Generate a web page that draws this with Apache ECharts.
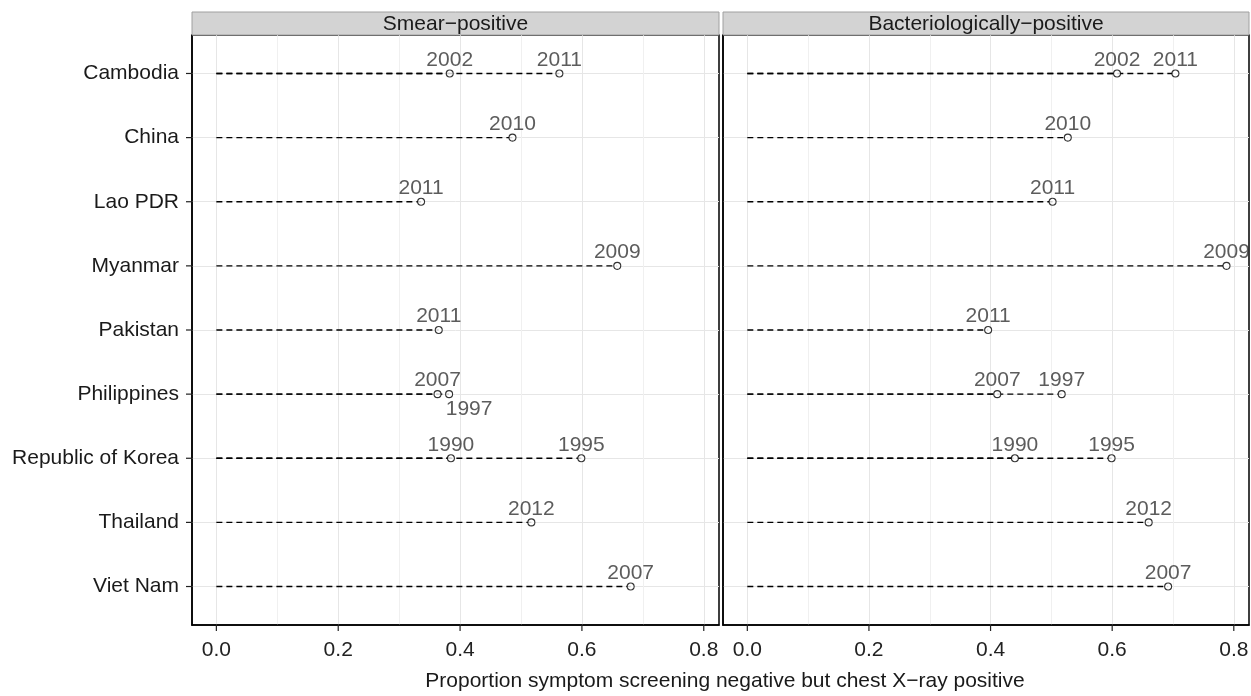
<!DOCTYPE html>
<html>
<head>
<meta charset="utf-8">
<script src="https://cdn.jsdelivr.net/npm/echarts@6/dist/echarts.min.js"></script>
<style>
html,body{margin:0;padding:0;background:#fff;}
#chart{width:1251px;height:696px;}
</style>
</head>
<body>
<div id="chart"></div>
<script>
// ---------- data ----------
const categories = ['Cambodia','China','Lao PDR','Myanmar','Pakistan','Philippines','Republic of Korea','Thailand','Viet Nam'];
const panelTitles = ['Smear\u2212positive','Bacteriologically\u2212positive'];
const xTicks = [0, 0.2, 0.4, 0.6, 0.8];
const xMinorTicks = [0.1, 0.3, 0.5, 0.7];

const smearCountry = ['Cambodia','Cambodia','China','Lao PDR','Myanmar','Pakistan','Philippines','Philippines','Republic of Korea','Republic of Korea','Thailand','Viet Nam'];
const smearYear    = ['2002','2011','2010','2011','2009','2011','2007','1997','1990','1995','2012','2007'];
const smearValue   = [0.383, 0.563, 0.486, 0.336, 0.658, 0.365, 0.363, 0.382, 0.385, 0.599, 0.517, 0.680];

const bactCountry = ['Cambodia','Cambodia','China','Lao PDR','Myanmar','Pakistan','Philippines','Philippines','Republic of Korea','Republic of Korea','Thailand','Viet Nam'];
const bactYear    = ['2002','2011','2010','2011','2009','2011','2007','1997','1990','1995','2012','2007'];
const bactValue   = [0.608, 0.704, 0.527, 0.502, 0.788, 0.396, 0.411, 0.517, 0.440, 0.599, 0.660, 0.692];

// ---------- build ----------
const FONT = '"Liberation Sans", Arial, Helvetica, sans-serif';
const X_MIN = -0.04, X_MAX = 0.825;
const Y_MIN = 0.4, Y_MAX = 9.6;
const rowValues = categories.map((c, i) => i + 1);
// label placed below-right for this point (as in the original)
const belowLabel = { 0: ['Philippines|1997'] };

function buildData(country, year, value, panel) {
  return value.map((v, i) => {
    const d = { value: [v, categories.indexOf(country[i]) + 1, year[i]] };
    if ((belowLabel[panel] || []).includes(country[i] + '|' + year[i])) {
      d.label = { position: 'bottom', offset: [20, 0], distance: 1 };
    }
    return d;
  });
}
const panels = [
  buildData(smearCountry, smearYear, smearValue, 0),
  buildData(bactCountry, bactYear, bactValue, 1)
];

const grids = [
  { left: 192, top: 35, width: 527, height: 590 },
  { left: 723, top: 35, width: 526, height: 590 }
];

const TICK_LEN = 6;
const xAxis = [], yAxis = [], series = [], graphic = [];
grids.forEach((g, p) => {
  g.show = true; g.borderColor = '#000'; g.borderWidth = 1.5; g.backgroundColor = 'transparent';
  g.outerBoundsMode = 'none';
  xAxis.push({
    type: 'value', gridIndex: p, min: X_MIN, max: X_MAX, position: 'bottom',
    axisLine: { show: true, onZero: false, lineStyle: { color: '#000', width: 1.5 } },
    axisTick: { show: false, customValues: xTicks },
    axisLabel: { show: true, customValues: xTicks, margin: 15, fontSize: 21, fontFamily: FONT, color: '#222',
      formatter: v => v.toFixed(1) },
    splitLine: { show: true, lineStyle: { color: '#e6e6e6', width: 1 } }
  });
  xAxis.push({
    type: 'value', gridIndex: p, min: X_MIN, max: X_MAX, position: 'bottom',
    axisLine: { show: false, onZero: false },
    axisTick: { show: false, customValues: xMinorTicks },
    axisLabel: { show: false, customValues: xMinorTicks },
    splitLine: { show: true, lineStyle: { color: '#f0f0f0', width: 1 } }
  });
  yAxis.push({
    type: 'value', gridIndex: p, min: Y_MIN, max: Y_MAX, inverse: true, position: 'left',
    axisLine: { show: true, onZero: false, lineStyle: { color: '#000', width: 1.5 } },
    axisTick: { show: false, customValues: rowValues },
    axisLabel: { show: p === 0, customValues: rowValues, margin: 13, fontSize: 21, fontFamily: FONT, color: '#1a1a1a',
      formatter: v => categories[Math.round(v) - 1] || '' },
    splitLine: { show: true, lineStyle: { color: '#e6e6e6', width: 1 } }
  });

  series.push({
    type: 'custom', xAxisIndex: p * 2, yAxisIndex: p, z: 2,
    encode: { x: 0, y: 1 },
    data: panels[p].map(d => d.value),
    renderItem: (params, api) => {
      const v = api.value(0), y = api.value(1);
      const a = api.coord([0, y]), b = api.coord([v, y]);
      return { type: 'line', shape: { x1: a[0], y1: a[1], x2: b[0], y2: b[1] },
        style: { stroke: '#000', lineWidth: 1.3, lineDash: [6, 4] } };
    }
  });
  series.push({
    type: 'scatter', xAxisIndex: p * 2, yAxisIndex: p, z: 3,
    symbol: 'circle', symbolSize: 7,
    itemStyle: { color: '#fff', borderColor: '#000', borderWidth: 1.1 },
    label: { show: true, position: 'top', distance: -1, fontSize: 21, fontFamily: FONT, color: '#333',
      formatter: prm => prm.value[2] },
    data: panels[p]
  });

  graphic.push({
    type: 'rect', z: 10,
    shape: { x: g.left, y: 12, width: g.width, height: 23 },
    style: { fill: '#d3d3d3', stroke: '#a0a0a0', lineWidth: 1 }
  });
  graphic.push({
    type: 'text', z: 11,
    x: g.left + g.width / 2, y: 24,
    style: { text: panelTitles[p], fontSize: 21, fontFamily: FONT, fill: '#1a1a1a', align: 'center', verticalAlign: 'middle' }
  });
});
graphic.push({
  type: 'text', x: 725, y: 681,
  style: { text: 'Proportion symptom screening negative but chest X\u2212ray positive', fontSize: 21, fontFamily: FONT,
    fill: '#1a1a1a', align: 'center', verticalAlign: 'middle' }
});

const chart = echarts.init(document.getElementById('chart'), null, { renderer: 'canvas' });
chart.setOption({
  animation: false,
  backgroundColor: '#fff',
  grid: grids,
  xAxis: xAxis,
  yAxis: yAxis,
  series: series,
  graphic: graphic
});

// axis tick marks outside the panels, placed through the axes' own scales
const ticks = [];
grids.forEach((g, p) => {
  xTicks.forEach(v => {
    const c = chart.convertToPixel({ gridIndex: p }, [v, Y_MAX]);
    ticks.push({ type: 'line', z: 100, silent: true,
      shape: { x1: c[0], y1: c[1], x2: c[0], y2: c[1] + TICK_LEN },
      style: { stroke: '#222', lineWidth: 1.2 } });
  });
  if (p === 0) rowValues.forEach(v => {
    const c = chart.convertToPixel({ gridIndex: 0 }, [X_MIN, v]);
    ticks.push({ type: 'line', z: 100, silent: true,
      shape: { x1: c[0] - TICK_LEN, y1: c[1], x2: c[0], y2: c[1] },
      style: { stroke: '#222', lineWidth: 1.2 } });
  });
});
chart.setOption({ graphic: { elements: graphic.concat(ticks) } });
</script>
</body>
</html>
